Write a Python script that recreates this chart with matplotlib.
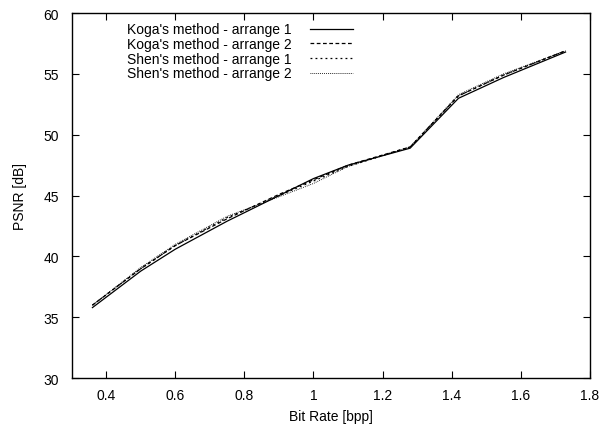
import numpy as np
import matplotlib
matplotlib.use('Agg')
import matplotlib.pyplot as plt

plt.rcParams['font.family'] = ['Liberation Sans', 'DejaVu Sans']

bit_rate = [0.36, 0.5, 0.6, 0.75, 0.9, 1.0, 1.1, 1.28, 1.42, 1.55, 1.73]
koga_1 = [35.8, 38.8, 40.6, 42.9, 45.0, 46.4, 47.5, 48.9, 53.0, 54.7, 56.8]
koga_2 = [36.0, 39.0, 40.9, 43.1, 45.1, 46.3, 47.5, 49.0, 53.2, 54.9, 56.9]
shen_1 = [36.0, 39.0, 40.9, 43.2, 45.0, 46.2, 47.4, 49.0, 53.2, 54.9, 56.9]
shen_2 = [36.0, 39.1, 41.0, 43.3, 44.9, 46.0, 47.4, 49.0, 53.3, 55.0, 56.9]

labels = ["Koga's method - arrange 1", "Koga's method - arrange 2",
          "Shen's method - arrange 1", "Shen's method - arrange 2"]

fig = plt.figure(figsize=(6.13, 4.27), dpi=100)
ax = fig.add_axes([0.117, 0.112, 0.845, 0.855])

ax.plot(bit_rate, koga_1, color='black', lw=0.9, ls='-', label=labels[0])
ax.plot(bit_rate, koga_2, color='black', lw=0.9, ls=(0, (3, 2)), label=labels[1])
ax.plot(bit_rate, shen_1, color='black', lw=0.9, ls=(0, (1.5, 2.5)), label=labels[2])
ax.plot(bit_rate, shen_2, color='black', lw=0.7, ls=(0, (0.8, 1.2)), label=labels[3])

ax.set_xlim(0.3, 1.8)
ax.set_ylim(30, 60)
ax.set_xticks(np.arange(0.4, 1.81, 0.2))
ax.set_xticklabels(['0.4', '0.6', '0.8', '1', '1.2', '1.4', '1.6', '1.8'])
ax.set_yticks(range(30, 61, 5))
ax.tick_params(direction='in', length=5, width=0.8, top=True, right=True,
               labelsize=10)
ax.tick_params(axis='x', pad=7)
ax.tick_params(axis='y', pad=9)
for s in ax.spines.values():
    s.set_linewidth(1.0)

ax.set_xlabel('Bit Rate [bpp]', fontsize=10, labelpad=5)
ax.set_ylabel('PSNR [dB]', fontsize=10, labelpad=12)

ax.legend(loc='upper left', bbox_to_anchor=(0.085, 1.005), frameon=False,
          markerfirst=False, fontsize=10, handlelength=3.1,
          labelspacing=0.05, handletextpad=1.3, borderpad=0.3)

fig.savefig('out.png', dpi=100)
